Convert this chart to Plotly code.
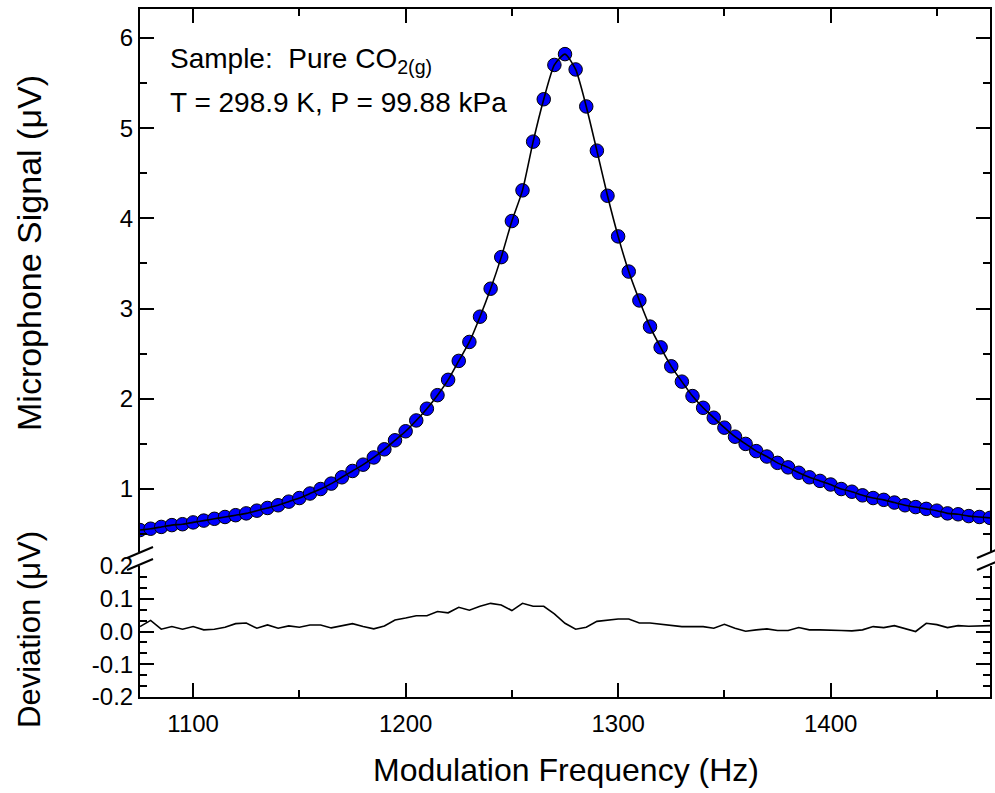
import plotly.graph_objects as go

# ---------------- data ----------------
freq = list(range(1075, 1480, 5))  # Hz

signal = [
    0.545, 0.56, 0.58, 0.60, 0.61, 0.63, 0.65, 0.67, 0.69, 0.71,  # 1075-1120
    0.73, 0.76, 0.79, 0.82, 0.86, 0.90, 0.95, 1.00, 1.06, 1.13,   # 1125-1170
    1.20, 1.27, 1.35, 1.44, 1.54, 1.64, 1.76, 1.89, 2.04, 2.21,   # 1175-1220
    2.42, 2.63, 2.91, 3.22, 3.57, 3.97, 4.31, 4.85, 5.32, 5.70,   # 1225-1270
    5.82,                                                         # 1275
    5.65, 5.24, 4.75, 4.25, 3.80, 3.41, 3.09, 2.80, 2.57, 2.36,   # 1280-1325
    2.19, 2.03, 1.90, 1.79, 1.68, 1.58, 1.50, 1.42, 1.36, 1.29,   # 1330-1375
    1.24, 1.18, 1.13, 1.09, 1.05, 1.00, 0.97, 0.93, 0.90, 0.88,   # 1380-1425
    0.85, 0.82, 0.80, 0.78, 0.76, 0.73, 0.72, 0.70, 0.69, 0.68,   # 1430-1475
]

deviation = [
    0.015, 0.034, 0.007, 0.015, 0.007, 0.015, 0.005, 0.007, 0.013, 0.024,  # 1075-1120
    0.026, 0.010, 0.020, 0.010, 0.017, 0.013, 0.020, 0.020, 0.011, 0.017,  # 1125-1170
    0.024, 0.015, 0.008, 0.017, 0.035, 0.041, 0.048, 0.048, 0.061, 0.057,  # 1175-1220
    0.074, 0.065, 0.077, 0.086, 0.081, 0.064, 0.086, 0.077, 0.077, 0.054,  # 1225-1270
    0.025,                                                                 # 1275
    0.007, 0.013, 0.031, 0.034, 0.038, 0.038, 0.026, 0.026, 0.023, 0.018,  # 1280-1325
    0.015, 0.015, 0.015, 0.010, 0.022, 0.010, 0.001, 0.005, 0.008, 0.003,  # 1330-1375
    0.003, 0.012, 0.005, 0.005, 0.005, 0.003, 0.002, 0.005, 0.015, 0.012,  # 1380-1425
    0.018, 0.010, 0.000, 0.025, 0.021, 0.012, 0.018, 0.016, 0.018, 0.018,  # 1430-1475
]

dev_ticks = [-0.2, -0.1, 0.0, 0.1, 0.2]
dev_ticktext = ["-0.2", "-0.1", "0.0", "0.1", "0.2"]

# ---------------- figure ----------------
W, H = 995, 793
L, R, T, B = 140, 5, 9, 96
PW, PH = W - L - R, H - T - B


def px_x(px):
    return (px - L) / PW


def px_y(py):
    return (H - B - py) / PH


FONT = "Liberation Sans, Arial, sans-serif"

fig = go.Figure()

# data points (top panel)
fig.add_trace(go.Scatter(
    x=freq, y=signal, mode="markers", xaxis="x2", yaxis="y2",
    marker=dict(size=13.5, color="rgb(0,0,255)", line=dict(color="black", width=1)),
    showlegend=False, hoverinfo="skip",
))
# fitted curve (top panel)
fig.add_trace(go.Scatter(
    x=freq, y=signal, mode="lines", xaxis="x2", yaxis="y2",
    line=dict(color="black", width=1.6, shape="spline", smoothing=0.6),
    showlegend=False, hoverinfo="skip",
))
# deviation (bottom panel)
fig.add_trace(go.Scatter(
    x=freq, y=deviation, mode="lines", xaxis="x", yaxis="y",
    line=dict(color="black", width=1.6),
    showlegend=False, hoverinfo="skip",
))

top_dom = [px_y(552), 1]
bot_dom = [0, px_y(566)]

axis_common = dict(
    showline=True, linewidth=2, linecolor="black",
    ticks="inside", tickwidth=2, tickcolor="black",
    showgrid=False, zeroline=False,
)
minor_x = dict(dtick=50, tick0=1000, ticklen=7, tickwidth=2, ticks="inside", tickcolor="black")

fig.update_layout(
    width=W, height=H,
    margin=dict(l=L, r=R, t=T, b=B, pad=0, autoexpand=False),
    paper_bgcolor="white", plot_bgcolor="white",
    showlegend=False,
    xaxis=dict(
        **axis_common, domain=[0, 1], anchor="y", range=[1075, 1475],
        tick0=1000, dtick=100, ticklen=14, minor=minor_x,
        tickfont=dict(family=FONT, size=24, color="black"),
        ticklabelstandoff=4,
    ),
    xaxis2=dict(
        **axis_common, domain=[0, 1], anchor="y2", range=[1075, 1475], side="top",
        matches="x", showticklabels=False,
        tick0=1000, dtick=100, ticklen=14, minor=minor_x,
    ),
    yaxis=dict(
        **axis_common, domain=bot_dom, anchor="x", range=[-0.2, 0.2],
        mirror="allticks",
        tickvals=dev_ticks, ticktext=dev_ticktext, ticklen=14,
        minor=dict(tickvals=[-0.2 + k * 0.1 / 3 for k in range(13)], ticklen=7,
                   tickwidth=2, ticks="inside", tickcolor="black"),
        tickfont=dict(family=FONT, size=24, color="black"),
    ),
    yaxis2=dict(
        **axis_common, domain=top_dom, anchor="x2", range=[0.302, 6.32],
        mirror="allticks",
        tick0=0, dtick=1, ticklen=14,
        minor=dict(tick0=0, dtick=0.5, ticklen=7, tickwidth=2, ticks="inside", tickcolor="black"),
        tickfont=dict(family=FONT, size=24, color="black"),
    ),
)

annos = [
    dict(text="Microphone Signal (\u03bcV)", x=px_x(29), y=px_y(253), textangle=-90,
         font=dict(family=FONT, size=34, color="black")),
    dict(text="Deviation (\u03bcV)", x=px_x(29), y=px_y(630), textangle=-90,
         font=dict(family=FONT, size=31, color="black")),
    dict(text="Modulation Frequency (Hz)", x=px_x(566), y=px_y(770),
         font=dict(family=FONT, size=32, color="black")),
]
for a in annos:
    fig.add_annotation(xref="paper", yref="paper", showarrow=False,
                       xanchor="center", yanchor="middle", **a)

fig.add_annotation(xref="paper", yref="paper", showarrow=False,
                   x=px_x(168), y=px_y(41), xanchor="left", yanchor="top",
                   text="Sample:\u00a0 Pure CO<sub>2(g)</sub>",
                   font=dict(family=FONT, size=28, color="black"))
fig.add_annotation(xref="paper", yref="paper", showarrow=False,
                   x=px_x(168), y=px_y(85), xanchor="left", yanchor="top",
                   text="T = 298.9 K, P = 99.88 kPa",
                   font=dict(family=FONT, size=28, color="black"))

# axis-break marks (two parallel slashes on each vertical axis)
for cx in (140, 990):
    for cy in (552.5, 564.5):
        fig.add_shape(type="line", xref="paper", yref="paper",
                      x0=px_x(cx - 13), y0=px_y(cy + 5.5),
                      x1=px_x(cx + 13), y1=px_y(cy - 5.5),
                      line=dict(color="black", width=2))

fig.write_html("out.html")
